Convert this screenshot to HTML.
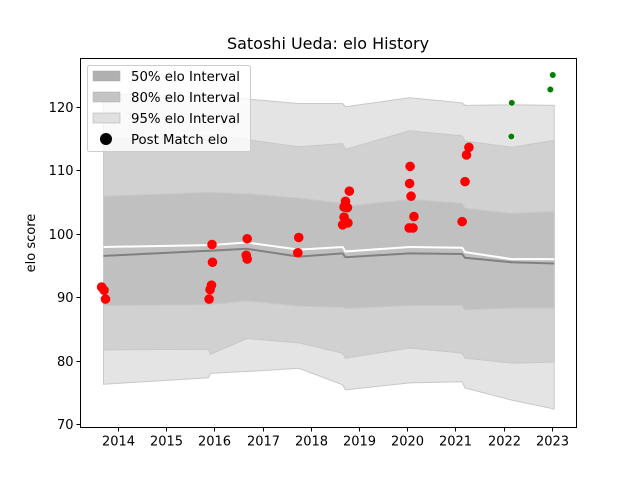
<!DOCTYPE html>
<html><head><meta charset="utf-8"><style>
body{margin:0;background:#fff;width:640px;height:480px;overflow:hidden;font-family:"Liberation Sans","DejaVu Sans",sans-serif}
text{font-family:"DejaVu Sans","Liberation Sans",sans-serif}
</style></head><body>
<svg id="chart" width="640" height="480" xmlns="http://www.w3.org/2000/svg">
<rect width="640" height="480" fill="#fff"/>
<g id="plot"></g>
</svg>
<script>
// band sample dates and values
const bandYears = [2013.70,2015.88,2015.92,2016.62,2016.68,2017.75,2018.66,2018.72,2020.05,2021.14,2021.20,2022.17,2023.05];
const mean      = [96.5,97.3,97.3,97.6,97.6,96.4,96.9,96.3,96.9,96.8,96.2,95.5,95.3];
const meanWhite = [97.9,98.2,98.2,98.6,98.6,97.5,97.9,97.2,97.9,97.8,97.1,96.0,96.0];
const lo50 = [88.7,88.8,88.8,89.4,89.4,88.6,88.4,88.2,88.7,88.7,88.0,88.3,88.3];
const hi50 = [105.9,106.5,106.5,106.3,106.3,105.6,104.8,104.3,105.4,104.8,104.0,103.2,103.5];
const lo80 = [81.7,81.8,81.0,83.3,83.5,82.8,81.2,80.4,82.0,81.2,80.4,79.6,79.8];
const hi80 = [115.0,115.4,115.4,115.0,114.8,113.7,114.2,113.3,116.2,115.4,114.6,113.6,114.7];
const lo95 = [76.3,77.3,78.0,78.3,78.3,78.8,76.2,75.4,76.5,76.7,75.7,73.8,72.4];
const hi95 = [122.0,121.6,121.4,121.3,121.2,120.5,120.5,120.0,121.4,120.6,120.2,120.3,120.2];
// post match elo points
const matchYears = [2013.66,2013.71,2013.74,2015.89,2015.91,2015.94,2015.96,2015.95,2016.68,2016.66,2016.68,2017.75,2017.73,2018.80,2018.72,2018.69,2018.76,2018.69,2018.66,2018.77,2020.06,2020.05,2020.08,2020.14,2020.04,2020.12,2021.28,2021.23,2021.20,2021.14];
const matchElo = [91.6,91.1,89.7,89.7,91.2,91.9,95.5,98.3,99.2,96.6,96.0,99.4,97.0,106.7,105.1,104.2,104.1,102.6,101.4,101.7,110.6,107.9,105.9,102.7,100.9,100.9,113.6,112.4,108.2,101.9];
const futureYears = [2022.17,2022.16,2022.97,2023.02];
const futureElo = [120.6,115.3,122.7,125.0];
const xTicks = [2014,2015,2016,2017,2018,2019,2020,2021,2022,2023];
const yTicks = [70,80,90,100,110,120];

const L=80.5,R=576.5,T=58.5,B=427.5;
function xs(v){return 118+(v-2014)*48.2;}
function ys(v){return 106.7+(120-v)*6.35;}
const NS="http://www.w3.org/2000/svg";
const g=document.getElementById('plot');
function mk(tag,attrs,parent){const e=document.createElementNS(NS,tag);for(const k in attrs)e.setAttribute(k,attrs[k]);(parent||g).appendChild(e);return e;}
function band(lo,hi,fill,name){
  let d='';
  bandYears.forEach((y,i)=>{d+=(i?'L':'M')+xs(y).toFixed(1)+','+ys(hi[i]).toFixed(1);});
  for(let i=bandYears.length-1;i>=0;i--)d+='L'+xs(bandYears[i]).toFixed(1)+','+ys(lo[i]).toFixed(1);
  const p=mk('path',{d:d+'Z',fill:fill,stroke:'#c8c8c8','stroke-width':1});
  
  
}
band(lo95,hi95,'#e4e4e4','band-95');
band(lo80,hi80,'#d1d1d1','band-80');
band(lo50,hi50,'#c0c0c0','band-50');
function line(arr,col,name){
  const d=bandYears.map((y,i)=>(i?'L':'M')+xs(y).toFixed(1)+','+ys(arr[i]).toFixed(1)).join('');
  const p=mk('path',{d:d,fill:'none',stroke:col,'stroke-width':2});
  
  
}
line(meanWhite,'#ffffff','pre-match-line');
line(mean,'#808080','mean-elo-line');
matchYears.forEach((y,i)=>{
  const c=mk('circle',{cx:xs(y),cy:ys(matchElo[i]),r:4.8,fill:'#ff0000'});
  
  
});
futureYears.forEach((y,i)=>{
  const c=mk('circle',{cx:xs(y),cy:ys(futureElo[i]),r:3.3,fill:'#008000',stroke:'#fff','stroke-width':0.6});
  
  
});
// axes
const fr=mk('rect',{x:L,y:T,width:R-L,height:B-T,fill:'none',stroke:'#000','stroke-width':1});


xTicks.forEach(t=>{
  const x=Math.round(xs(t))+0.5;
  mk('line',{x1:x,x2:x,y1:B,y2:B+4,stroke:'#000'});
  const tx=mk('text',{x:x,y:B+18,'font-size':13,'text-anchor':'middle',fill:'#000'});
  tx.textContent=t;
  
  
});
yTicks.forEach(t=>{
  const y=Math.round(ys(t))+0.5;
  mk('line',{x1:L-4,x2:L,y1:y,y2:y,stroke:'#000'});
  const tx=mk('text',{x:L-7,y:y+4.5,'font-size':13,'text-anchor':'end',fill:'#000'});
  tx.textContent=t;
  
  
});
const yl=mk('text',{x:35,y:243,'font-size':13,'text-anchor':'middle',transform:'rotate(-90 35 243)'});
yl.textContent='elo score';


const ti=mk('text',{x:328,y:49,'font-size':16,'text-anchor':'middle'});
ti.textContent='Satoshi Ueda: elo History';


// legend
const lg=mk('g',{});


mk('rect',{x:87.5,y:65.5,width:163,height:86,rx:2,fill:'#fff','fill-opacity':0.8,stroke:'#ccc'},lg);
const items=[['#b0b0b0','50% elo Interval'],['#c4c4c4','80% elo Interval'],['#e0e0e0','95% elo Interval']];
items.forEach((it,i)=>{
  const yy=76+i*21;
  mk('rect',{x:93,y:yy-5,width:27,height:10,fill:it[0],stroke:'#aaa','stroke-width':0.5},lg);
  const t=mk('text',{x:131,y:yy+5,'font-size':13.3},lg);
  t.textContent=it[1];
  
  
});
mk('circle',{cx:106,cy:139,r:6,fill:'#000'},lg);
const t4=mk('text',{x:131,y:144,'font-size':13.3},lg);
t4.textContent='Post Match elo';


</script>
</body></html>
